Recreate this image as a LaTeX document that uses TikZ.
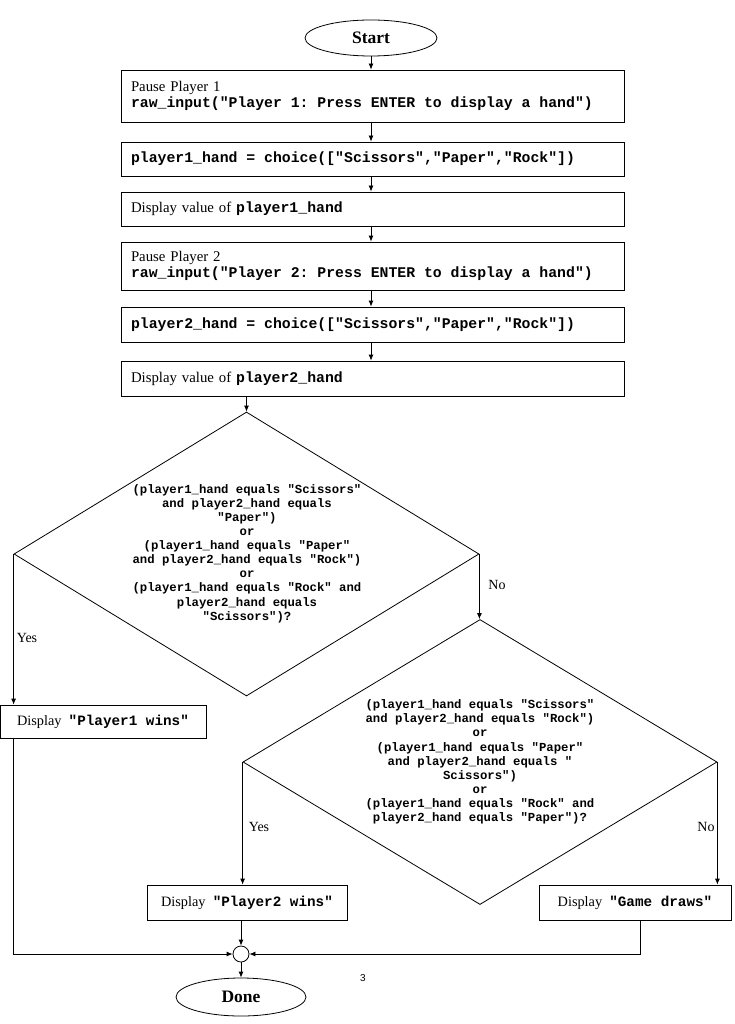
\documentclass[tikz,border=0pt]{standalone}
\usepackage{fontspec}
\setmainfont{Liberation Serif}
\setmonofont{Liberation Mono}
\newfontfamily\pagenumfont{Liberation Sans}
\usetikzlibrary{shapes.geometric,arrows.meta,calc}
\newcommand\mycode[1]{{\ttfamily\bfseries\spaceskip=0.6em\relax\xspaceskip=0.6em\relax #1}}
\begin{document}
\begin{tikzpicture}[x=1pt,y=-1pt,
  every path/.style={line width=0.8pt},
  arr/.style={draw, line width=0.8pt, -{Latex[length=6pt,width=5pt]}},
  box/.style={draw, line width=0.8pt, minimum width=503pt, text width=483pt, align=left,
    inner xsep=10pt, inner ysep=0pt, font=\fontsize{14.8}{16}\selectfont},
  outbox/.style={draw, line width=0.8pt, inner xsep=0pt, inner ysep=0pt, minimum height=34pt,
    font=\fontsize{14.3}{16}\selectfont},
  term/.style={draw, ellipse, line width=0.8pt, inner sep=0pt, font=\fontsize{17.5}{20}\bfseries},
  dia/.style={draw, diamond, line width=0.8pt, inner sep=0pt},
  diatext/.style={align=center, inner sep=0pt, font=\fontsize{12.3}{14.1}\ttfamily\bfseries},
  lab/.style={inner sep=0pt, font=\fontsize{14}{16}\selectfont}
]
\useasboundingbox (0,0) rectangle (734,1024);

\node[term, minimum width=132pt, minimum height=36pt] (start) at (371,38) {Start};

\node[box, minimum height=52pt] (b1) at (372.5,96)
  {Pause Player 1\\\mycode{raw\_input("Player 1: Press ENTER to display a hand")}};
\node[box, minimum height=34pt] (b2) at (372.5,159)
  {\mycode{player1\_hand = choice(["Scissors","Paper","Rock"])}};
\node[box, minimum height=34pt] (b3) at (372.5,209)
  {Display value of \mycode{player1\_hand}};
\node[box, minimum height=48pt] (b4) at (372.5,266)
  {Pause Player 2\\\mycode{raw\_input("Player 2: Press ENTER to display a hand")}};
\node[box, minimum height=35pt] (b5) at (372.5,324.5)
  {\mycode{player2\_hand = choice(["Scissors","Paper","Rock"])}};
\node[box, minimum height=35pt] (b6) at (372.5,378.5)
  {Display value of \mycode{player2\_hand}};

\node[dia, minimum width=465pt, minimum height=284pt] (d1) at (246.5,554) {};
\node[diatext] (d1t) at (247,553.5)
  {(player1\_hand equals "Scissors"\\
   and player2\_hand equals\\
   "Paper")\\
   or\\
   (player1\_hand equals "Paper"\\
   and player2\_hand equals "Rock")\\
   or\\
   (player1\_hand equals "Rock" and\\
   player2\_hand equals\\
   "Scissors")?};

\node[dia, minimum width=474pt, minimum height=285pt] (d2) at (480,762) {};
\node[diatext] (d2t) at (480,762)
  {(player1\_hand equals "Scissors"\\
   and player2\_hand equals "Rock")\\
   or\\
   (player1\_hand equals "Paper"\\
   and player2\_hand equals "\\
   Scissors")\\
   or\\
   (player1\_hand equals "Rock" and\\
   player2\_hand equals "Paper")?};

\node[outbox, minimum width=206pt, minimum height=33pt] (p1) at (103,721.5)
  {Display\ \ \mycode{"Player1 wins"}};
\node[outbox, minimum width=200pt, minimum height=35pt] (p2) at (247,902.5)
  {Display\ \ \mycode{"Player2 wins"}};
\node[outbox, minimum width=192pt, minimum height=35pt] (gd) at (635,902.5)
  {Display\ \ \mycode{"Game draws"}};

\node[draw, circle, line width=0.8pt, minimum size=16pt, inner sep=0pt] (join) at (241,954) {};
\node[term, minimum width=130pt, minimum height=38pt] (done) at (241,997) {Done};

\node[lab] (yes1) at (27,638) {Yes};
\node[lab] (no1) at (497,585) {No};
\node[lab] (yes2) at (259,827) {Yes};
\node[lab] (no2) at (706,827) {No};
\node[inner sep=0pt, font=\fontsize{10}{12}\pagenumfont] (pnum) at (363,978) {3};

% connectors
\draw[arr] (start.south) -- (b1.north -| start.south);
\draw[arr] (b1.south -| start.south) -- (b2.north -| start.south);
\draw[arr] (b2.south -| start.south) -- (b3.north -| start.south);
\draw[arr] (b3.south -| start.south) -- (b4.north -| start.south);
\draw[arr] (b4.south -| start.south) -- (b5.north -| start.south);
\draw[arr] (b5.south -| start.south) -- (b6.north -| start.south);
\draw[arr] (b6.south -| d1.north) -- (d1.north);
\draw[arr] (d1.west) -- (d1.west |- p1.north);
\draw[arr] (d1.east) -- (d1.east |- d2.north);
\draw[arr] (d2.west) -- (d2.west |- p2.north);
\draw[arr] (d2.east) -- (d2.east |- gd.north);
\draw[arr] (d1.west |- p1.south) -- (d1.west |- join) -- (join.west);
\draw[arr] (join.north |- p2.south) -- (join.north);
\draw[arr] ($(gd.south)+(5,0)$) -- ($(gd.south |- join)+(5,0)$) -- (join.east);
\draw[arr] (join.south) -- (done.north);
\end{tikzpicture}
\end{document}
